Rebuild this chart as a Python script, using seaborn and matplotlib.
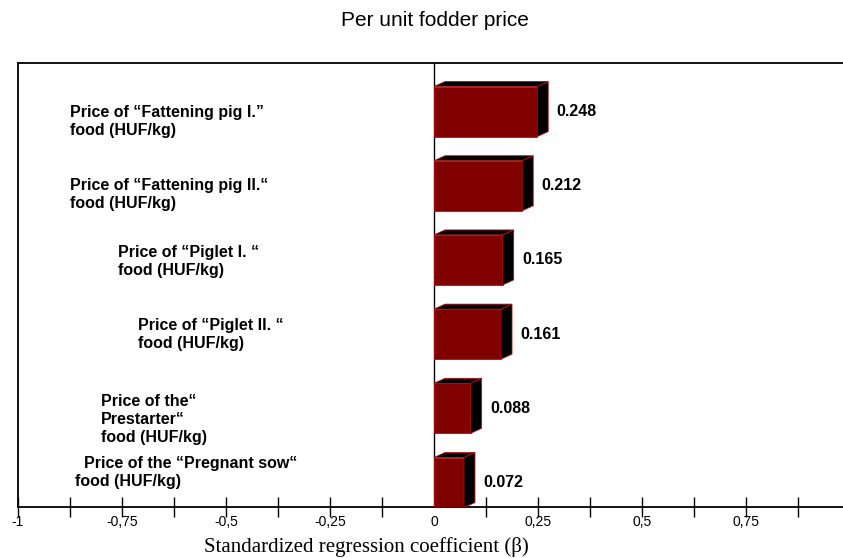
import matplotlib
matplotlib.use("Agg")
import matplotlib.pyplot as plt
from matplotlib.patches import Polygon
from matplotlib.ticker import MultipleLocator
import seaborn as sns
import pandas as pd

# data
categories = [
    "Price of \u201cFattening pig I.\u201d\nfood (HUF/kg)",
    "Price of \u201cFattening pig II.\u201c\nfood (HUF/kg)",
    "Price of \u201cPiglet I. \u201c\nfood (HUF/kg)",
    "Price of \u201cPiglet II. \u201c\nfood (HUF/kg)",
    "Price of the\u201c\nPrestarter\u201c\nfood (HUF/kg)",
    "  Price of the \u201cPregnant sow\u201c\nfood (HUF/kg)",
]
beta = [0.248, 0.212, 0.165, 0.161, 0.088, 0.072]
tick_values = [-1, -0.75, -0.5, -0.25, 0, 0.25, 0.5, 0.75]
tick_labels = ["-1", "-0,75", "-0,5", "-0,25", "0", "0,25", "0,5", "0,75"]

# where each category text block sits (x in data units, y shift from bar centre)
label_x = [-0.875, -0.875, -0.760, -0.712, -0.800, -0.863]
label_dy = [0.135, 0.12, 0.02, 0.0, 0.155, -0.14]

df = pd.DataFrame({"item": categories, "beta": beta})

sns.set_style("white")
plt.rcParams["font.family"] = ["Liberation Sans", "DejaVu Sans"]
plt.rcParams["text.color"] = "black"
plt.rcParams["xtick.color"] = "black"
plt.rcParams["axes.labelcolor"] = "black"

fig = plt.figure(figsize=(8.43, 5.58), dpi=100)
ax = fig.add_axes([18 / 843, 1 - 507 / 558, 1 - 18 / 843, (507 - 63) / 558])

sns.barplot(data=df, x="beta", y="item", orient="h", color="#800000",
            saturation=1, width=0.674, edgecolor="#b01010", linewidth=0.6,
            ax=ax, zorder=3)

# fake 3D depth: black top and side faces behind each bar
dx, dy = 0.0264, 0.067
for bar in ax.patches[:len(beta)]:
    x0 = bar.get_x()
    x1 = x0 + bar.get_width()
    yt = bar.get_y()
    yb = yt + bar.get_height()
    top = Polygon([(x0, yt), (x1, yt), (x1 + dx, yt - dy), (x0 + dx, yt - dy)],
                  closed=True, facecolor="black", edgecolor="#b01010", lw=0.6, zorder=3)
    side = Polygon([(x1, yt), (x1 + dx, yt - dy), (x1 + dx, yb - dy), (x1, yb)],
                   closed=True, facecolor="black", edgecolor="#b01010", lw=0.6, zorder=3)
    ax.add_patch(top)
    ax.add_patch(side)

# value labels
for i, v in enumerate(beta):
    ax.annotate(f"{v:.3f}", xy=(v, i), xytext=(14, 0), textcoords="offset points",
                ha="left", va="center", fontsize=11.5, fontweight="bold")

# category labels as free text blocks
for i, lab in enumerate(categories):
    ax.text(label_x[i], i + label_dy[i], lab, ha="left", va="center",
            fontsize=11.5, fontweight="bold", linespacing=1.25)

ax.axvline(0, color="black", lw=1, zorder=2)
ax.set_xlim(-1, 0.983)
ax.set_ylim(5.33, -0.654)

ax.set_xticks(tick_values)
ax.set_xticklabels(tick_labels)
ax.xaxis.set_minor_locator(MultipleLocator(0.125))
ax.tick_params(axis="x", which="both", direction="inout", length=14, width=1,
               color="black", labelsize=10, pad=-1, bottom=True)
ax.xaxis.get_major_ticks()[4].tick1line.set_visible(False)
ax.set_yticks([])
ax.set_ylabel("")
ax.set_xlabel("")

for s in ["left", "top", "bottom"]:
    ax.spines[s].set_visible(True)
    ax.spines[s].set_color("black")
    ax.spines[s].set_linewidth(1.3)
ax.spines["right"].set_visible(False)

fig.text(435 / 843, 1 - 20 / 558, "Per unit fodder price", ha="center", va="center",
         fontsize=15)
fig.text(366 / 843, 1 - 547 / 558, "Standardized regression coefficient (\u03b2)",
         ha="center", va="center", fontsize=15, family=["Liberation Serif", "DejaVu Serif"])

fig.savefig("out.png", dpi=100)
